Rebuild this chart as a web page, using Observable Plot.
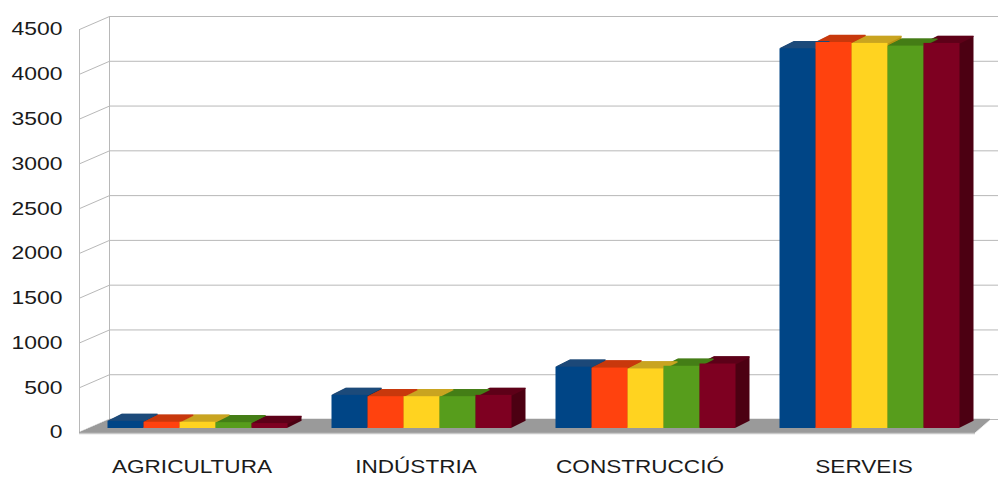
<!DOCTYPE html>
<html><head><meta charset="utf-8">
<script src="https://cdn.jsdelivr.net/npm/d3@7"></script>
<script src="https://cdn.jsdelivr.net/npm/@observablehq/plot@0.6"></script>
<style>
body{margin:0;background:#fff;}
#wrap{position:relative;width:998px;height:477px;overflow:hidden;}
#wrap svg{position:absolute;left:0;top:0;}
</style></head><body><div id="wrap"></div>
<script>
// ---- data ----
const categories = ["AGRICULTURA", "INDÚSTRIA", "CONSTRUCCIÓ", "SERVEIS"];
const seriesNames = ["Sèrie 1", "Sèrie 2", "Sèrie 3", "Sèrie 4", "Sèrie 5"];
const serie1 = [80, 370, 685, 4240];
const serie2 = [70, 355, 675, 4310];
const serie3 = [70, 355, 665, 4300];
const serie4 = [65, 355, 695, 4270];
const serie5 = [55, 370, 720, 4300];
const yTicks = [0, 500, 1000, 1500, 2000, 2500, 3000, 3500, 4000, 4500];
const frontColors = ["#004586", "#ff420e", "#ffd320", "#579d1c", "#7e0021"];
const sideColors = ["#002b55", "#b02a05", "#b59212", "#386b0e", "#4c0012"];
const topColors = ["#1c4a7a", "#c8380c", "#c9a420", "#457e17", "#5e0018"];

const allSeries = [serie1, serie2, serie3, serie4, serie5];
const rows = [];
categories.forEach((c, ci) => allSeries.forEach((s, si) => rows.push({cat: c, series: seriesNames[si], si, value: s[ci]})));

const W = 998, H = 477;
const FONT = "'Liberation Sans', Arial, sans-serif";
const MT = 29, MB = 45;
// wall depth offsets (pixels)
const WALL_DX = 30, WALL_DY = -13;
const BG_ML = 79, BG_MR = 23;
const grid = "#b8b8b8";

// ---- background: walls, floor, gridlines, y axis ----
const floorLayers = d3.range(0, 14).map(k =>
  Plot.ruleY([0], {dx: k * WALL_DX / 13, dy: k * WALL_DY / 13, insetRight: k * 15 / 13, stroke: "#9a9a9a", strokeWidth: 1.6}));
const xUnit = WALL_DX / (W - BG_ML - BG_MR);
const yUnit = -WALL_DY / (H - MT - MB) * 4500;

const bg = Plot.plot({
  width: W, height: H,
  marginLeft: BG_ML, marginRight: BG_MR, marginTop: MT, marginBottom: MB,
  x: {domain: [0, 1], axis: null},
  y: {domain: [0, 4500], ticks: yTicks, tickSize: 0, tickPadding: 17, tickFormat: "d", label: null},
  style: {fontFamily: FONT, fontSize: "18.5px", color: "#1a1a1a", background: "transparent"},
  marks: [
    Plot.ruleY(yTicks, {dx: WALL_DX, dy: WALL_DY, stroke: grid}),
    Plot.link(yTicks, {x1: 0, x2: xUnit, y1: d => d, y2: d => d + yUnit, stroke: grid}),
    Plot.ruleX([0], {y1: 0, y2: 4500, stroke: grid}),
    Plot.ruleX([0], {y1: 0, y2: 4500, dx: WALL_DX, dy: WALL_DY, stroke: grid}),
    ...floorLayers,
    Plot.ruleY([0], {dy: 1, stroke: "#c8c8c8", strokeWidth: 1.5})
  ]
});

// ---- foreground: pseudo-3D bars ----
const DEPTH = 14, SLOPE = 0.5, LIFT = 4;
const fgMarks = [];
for (let k = DEPTH; k >= 1; k--) {
  fgMarks.push(Plot.barY(rows, {fx: "cat", x: "series", y: "value", fill: d => sideColors[d.si], dx: k, dy: -LIFT - k * SLOPE}));
}
for (let k = 1; k <= DEPTH; k++) {
  fgMarks.push(Plot.tickY(rows, {fx: "cat", x: "series", y: "value", stroke: d => topColors[d.si], strokeWidth: 1.4, dx: k, dy: -LIFT - k * SLOPE}));
}
fgMarks.push(Plot.barY(rows, {fx: "cat", x: "series", y: "value", fill: d => frontColors[d.si], dy: -LIFT}));

const fg = Plot.plot({
  width: W, height: H,
  marginLeft: 84.5, marginRight: 14.5, marginTop: MT, marginBottom: MB,
  fx: {domain: categories, paddingInner: 0.182, paddingOuter: 0.091, label: null, tickSize: 0, tickPadding: 27, axis: "bottom"},
  x: {domain: seriesNames, padding: 0, axis: null},
  y: {domain: [0, 4500], axis: null},
  color: {type: "identity"},
  style: {fontFamily: FONT, fontSize: "18.5px", color: "#1a1a1a", background: "transparent"},
  marks: fgMarks
});

function stretchText(svg, sx, shift) {
  d3.select(svg).selectAll("text").each(function() {
    const t = d3.select(this);
    const tr = t.attr("transform");
    if (tr) t.attr("transform", tr + ` translate(${shift},0) scale(${sx},1)`);
    else {
      const x = +t.attr("x") || 0, y = +t.attr("y") || 0;
      t.attr("x", null).attr("y", null).attr("transform", `translate(${x + shift},${y}) scale(${sx},1)`);
    }
  });
}
stretchText(bg, 1.24, 0);
stretchText(fg, 1.22, -6);

const wrap = document.getElementById("wrap");
wrap.appendChild(bg);
wrap.appendChild(fg);
</script></body></html>
